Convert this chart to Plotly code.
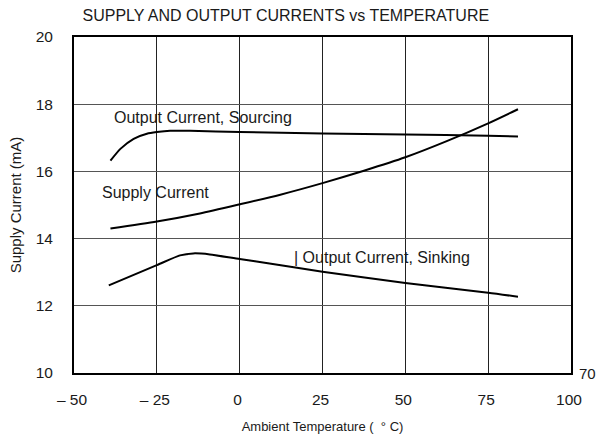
import plotly.graph_objects as go

# Ambient temperature (C) and currents (mA)
temp_sourcing = [-39, -36, -32, -28, -25, -21, -15, 0, 25, 50, 75, 84]
i_sourcing = [16.32, 16.67, 16.97, 17.12, 17.17, 17.21, 17.21, 17.17, 17.13, 17.10, 17.06, 17.04]

temp_supply = [-39, -25, -12, 0, 12, 25, 37.5, 50, 62.5, 75, 84]
i_supply = [14.30, 14.51, 14.75, 15.02, 15.30, 15.65, 16.02, 16.42, 16.90, 17.43, 17.85]

temp_sinking = [-39.5, -25, -18, -14, -9, 0, 9, 25, 50, 75, 84]
i_sinking = [12.61, 13.21, 13.50, 13.56, 13.53, 13.39, 13.26, 13.01, 12.68, 12.39, 12.27]

x_ticks = [-50, -25, 0, 25, 50, 75, 100]
x_ticktext = ["\u2013 50", "\u2013 25", "0", "25", "50", "75", "100"]
y_ticks = [10, 12, 14, 16, 18, 20]

FONT = "Liberation Sans, Arial, sans-serif"
INK = "#1a1a1a"

fig = go.Figure()

for xs, ys in [(temp_sourcing, i_sourcing), (temp_supply, i_supply), (temp_sinking, i_sinking)]:
    fig.add_trace(go.Scatter(
        x=xs, y=ys, mode="lines",
        line=dict(color="black", width=2, shape="spline", smoothing=0.6),
        showlegend=False, hoverinfo="skip"
    ))

# curve labels
labels = [
    (-38.5, 17.6, "Output Current, Sourcing"),
    (-42.1, 15.37, "Supply Current"),
    (15.9, 13.45, "| Output Current, Sinking"),
]
for x, y, txt in labels:
    fig.add_annotation(x=x, y=y, text=txt, showarrow=False,
                       xanchor="left", yanchor="middle",
                       font=dict(size=16, color=INK))

fig.add_annotation(x=100.6, y=13.45, text="|", showarrow=False,
                   xanchor="center", yanchor="middle",
                   font=dict(size=16, color=INK))
fig.add_annotation(x=1.034, y=0, xref="paper", yref="paper", text="70",
                   showarrow=False, xanchor="center", yanchor="middle",
                   font=dict(size=15, color=INK))

fig.update_xaxes(
    range=[-50, 100], tickvals=x_ticks, ticktext=x_ticktext,
    showgrid=True, gridcolor="#222", gridwidth=1,
    showline=True, linecolor="black", linewidth=2, mirror=True,
    ticks="", zeroline=False, ticklabelshift=-2, ticklabelstandoff=11,
    tickfont=dict(size=15.5), automargin=False,
    title=dict(text="Ambient Temperature (  \u00b0 C)", standoff=15, font=dict(size=13))
)
fig.update_yaxes(
    range=[10, 20], tickvals=y_ticks,
    showgrid=True, gridcolor="#555", gridwidth=1,
    showline=True, linecolor="black", linewidth=2, mirror=True,
    ticks="", zeroline=False, ticklabelstandoff=16,
    tickfont=dict(size=15.5), automargin=False,
    title=dict(text="Supply Current (mA)", standoff=10, font=dict(size=15))
)

fig.update_layout(
    width=598, height=441,
    margin=dict(l=74, r=27, t=37, b=68),
    paper_bgcolor="white", plot_bgcolor="white",
    font=dict(family=FONT, size=13, color=INK),
    title=dict(text="SUPPLY AND OUTPUT CURRENTS vs TEMPERATURE",
               x=0.478, xanchor="center", y=0.966, yanchor="middle",
               font=dict(size=16)),
)

# drop the default 8px page margin so the figure sits at the window origin
fig.write_html("out.html", config={"displayModeBar": False},
               post_script="document.body.style.margin='0';")
